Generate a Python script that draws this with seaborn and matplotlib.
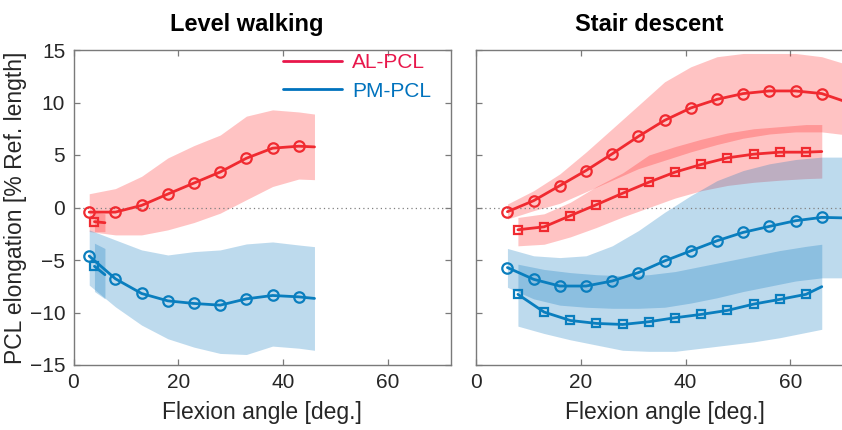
import numpy as np
import pandas as pd
import matplotlib
matplotlib.use("Agg")
import matplotlib.pyplot as plt
from matplotlib.lines import Line2D
import seaborn as sns

# ---------------- data ----------------
# Level walking
LW_circ_x = [3, 8, 13, 18, 23, 28, 33, 38, 43, 46]
LW_AL_circ = [-0.44, -0.44, 0.2, 1.28, 2.33, 3.38, 4.69, 5.65, 5.84, 5.77]
LW_AL_circ_up = [1.31, 1.8, 2.97, 4.72, 5.9, 6.9, 8.7, 9.3, 9.1, 8.9]
LW_AL_circ_lo = [-2.29, -2.61, -2.61, -2.13, -1.43, -0.54, 0.74, 2.0, 2.71, 2.65]
LW_PM_circ = [-4.62, -6.79, -8.19, -8.89, -9.14, -9.3, -8.7, -8.38, -8.51, -8.66]
LW_PM_circ_up = [-2.13, -3.09, -4.04, -4.52, -4.2, -4.04, -3.47, -3.28, -3.57, -3.73]
LW_PM_circ_lo = [-7.39, -9.46, -11.2, -12.5, -13.3, -13.9, -14.0, -13.2, -13.4, -13.6]

LW_sq_x = [4, 6]
LW_AL_sq = [-1.35, -1.45]
LW_AL_sq_up = [-0.5, -0.6]
LW_AL_sq_lo = [-2.3, -2.3]
LW_PM_sq = [-5.6, -6.4]
LW_PM_sq_up = [-3.4, -3.9]
LW_PM_sq_lo = [-8.0, -8.7]

# Stair descent
SD_circ_x = [6, 11, 16, 21, 26, 31, 36, 41, 46, 51, 56, 61, 66, 71]
SD_AL_circ = [-0.4, 0.65, 2.08, 3.52, 5.11, 6.77, 8.3, 9.48, 10.3, 10.85, 11.1, 11.1, 10.85, 10.0]
SD_AL_circ_up = [0.33, 1.6, 3.2, 5.28, 7.5, 9.73, 11.97, 13.4, 14.36, 14.67, 14.67, 14.67, 14.36, 13.6]
SD_AL_circ_lo = [-1.1, -0.3, 0.4, 1.5, 2.6, 3.7, 4.5, 5.3, 6.0, 6.6, 7.0, 7.2, 7.2, 6.9]
SD_PM_circ = [-5.72, -6.84, -7.48, -7.48, -7.0, -6.2, -5.09, -4.13, -3.17, -2.37, -1.8, -1.26, -0.94, -1.0]
SD_PM_circ_up = [-3.9, -4.6, -4.77, -4.6, -3.65, -2.2, -0.46, 1.13, 2.56, 3.52, 4.16, 4.57, 4.8, 4.8]
SD_PM_circ_lo = [-7.6, -8.7, -9.3, -9.5, -9.6, -9.6, -9.5, -9.1, -8.6, -8.0, -7.5, -7.0, -6.7, -6.7]

SD_sq_x = [8, 13, 18, 23, 28, 33, 38, 43, 48, 53, 58, 63, 66]
SD_AL_sq = [-2.12, -1.84, -0.78, 0.27, 1.36, 2.41, 3.37, 4.1, 4.73, 5.08, 5.27, 5.27, 5.33]
SD_AL_sq_up = [-0.95, -0.6, 0.5, 2.0, 3.3, 5.0, 5.8, 6.5, 7.1, 7.5, 7.7, 7.9, 7.9]
SD_AL_sq_lo = [-3.65, -3.5, -2.8, -1.9, -0.9, 0.0, 0.9, 1.6, 2.1, 2.4, 2.6, 2.75, 2.8]
SD_PM_sq = [-8.27, -9.96, -10.76, -11.04, -11.14, -10.88, -10.5, -10.18, -9.8, -9.2, -8.75, -8.27, -7.54]
SD_PM_sq_up = [-5.4, -5.9, -6.2, -6.4, -6.5, -6.4, -6.1, -5.6, -5.1, -4.6, -4.1, -3.7, -3.5]
SD_PM_sq_lo = [-11.3, -12.0, -12.6, -13.1, -13.6, -13.7, -13.7, -13.4, -13.1, -12.8, -12.4, -11.9, -11.6]

titles = ["Level walking", "Stair descent"]
legend_labels = ["AL-PCL", "PM-PCL"]
x_ticks = [0, 20, 40, 60]
y_ticks = [-15, -10, -5, 0, 5, 10, 15]
xlabel = "Flexion angle [deg.]"
ylabel = "PCL elongation [% Ref. length]"

# ---------------- style ----------------
sns.set_theme(style="white")
plt.rcParams["font.family"] = ["Liberation Sans", "DejaVu Sans"]

RED_LINE = "#F02A30"
BLUE_LINE = "#0A7EBE"
RED_BAND = "#FF1A1A"
BLUE_BAND = "#0072BD"
RED_LEG = "#E8174B"
BLUE_LEG = "#0072BD"
SPINE = "#7a7a7a"
TXT = "#262626"

fig = plt.figure(figsize=(8.42, 4.30), dpi=100)
W, H = 842.0, 430.0
ax_l = fig.add_axes([73.5 / W, (H - 365) / H, 377.2 / W, 315 / H])
ax_r = fig.add_axes([476 / W, (H - 365) / H, 377.2 / W, 315 / H])


def band(ax, x, lo, up, color):
    ax.fill_between(x, lo, up, color=color, alpha=0.26, linewidth=0, zorder=1)


def series(ax, x, y, color, marker, ms, mark_last=False):
    df = pd.DataFrame({"x": x, "y": y})
    idx = list(range(len(x))) if mark_last else list(range(len(x) - 1))
    sns.lineplot(data=df, x="x", y="y", ax=ax, color=color, linewidth=2.0,
                 marker=marker, markersize=ms, markevery=idx,
                 markerfacecolor="none", markeredgecolor=color,
                 markeredgewidth=1.6, errorbar=None, sort=False, zorder=3)


# Left panel
band(ax_l, LW_circ_x, LW_AL_circ_lo, LW_AL_circ_up, RED_BAND)
band(ax_l, LW_sq_x, LW_AL_sq_lo, LW_AL_sq_up, RED_BAND)
band(ax_l, LW_circ_x, LW_PM_circ_lo, LW_PM_circ_up, BLUE_BAND)
band(ax_l, LW_sq_x, LW_PM_sq_lo, LW_PM_sq_up, BLUE_BAND)
series(ax_l, LW_circ_x, LW_AL_circ, RED_LINE, "o", 7.5)
series(ax_l, LW_circ_x, LW_PM_circ, BLUE_LINE, "o", 7.5)
series(ax_l, LW_sq_x, LW_AL_sq, RED_LINE, "s", 5.5)
series(ax_l, LW_sq_x, LW_PM_sq, BLUE_LINE, "s", 5.5)

# Right panel
band(ax_r, SD_circ_x, SD_AL_circ_lo, SD_AL_circ_up, RED_BAND)
band(ax_r, SD_sq_x, SD_AL_sq_lo, SD_AL_sq_up, RED_BAND)
band(ax_r, SD_circ_x, SD_PM_circ_lo, SD_PM_circ_up, BLUE_BAND)
band(ax_r, SD_sq_x, SD_PM_sq_lo, SD_PM_sq_up, BLUE_BAND)
series(ax_r, SD_circ_x, SD_AL_circ, RED_LINE, "o", 7.5)
series(ax_r, SD_circ_x, SD_PM_circ, BLUE_LINE, "o", 7.5)
series(ax_r, SD_sq_x, SD_AL_sq, RED_LINE, "s", 5.5)
series(ax_r, SD_sq_x, SD_PM_sq, BLUE_LINE, "s", 5.5)

for i, ax in enumerate([ax_l, ax_r]):
    ax.axhline(0, color="#808080", linestyle=(0, (1, 2.5)), linewidth=0.9, zorder=2)
    ax.set_xlim(0, 72)
    ax.set_ylim(-15, 15)
    ax.set_xticks(x_ticks)
    ax.set_yticks(y_ticks)
    for s in ax.spines.values():
        s.set_color(SPINE)
        s.set_linewidth(1.0)
    ax.tick_params(direction="in", length=4, width=0.9, color=SPINE,
                   top=True, right=True, bottom=True, left=True,
                   labelsize=15, labelcolor=TXT, pad=6)
    ax.set_xlabel(xlabel, fontsize=16.5, color=TXT, labelpad=6)
    ax.set_ylabel("")
    ax.set_title(titles[i], fontsize=17, fontweight="bold", color="black",
                 pad=14, x=0.46)

ax_l.set_ylabel(ylabel, fontsize=16.5, color=TXT, labelpad=2)
ax_r.tick_params(labelleft=False)

handles = [Line2D([0], [0], color=RED_LEG, lw=2.0),
           Line2D([0], [0], color=BLUE_LEG, lw=2.0)]
leg = ax_l.legend(handles, legend_labels, loc="upper right",
                  bbox_to_anchor=(0.948, 0.99), frameon=False,
                  fontsize=15, handlelength=2.8, handletextpad=0.5,
                  labelspacing=0.45, borderaxespad=0, borderpad=0)
for t, c in zip(leg.get_texts(), [RED_LEG, BLUE_LEG]):
    t.set_color(c)

fig.savefig("out.png", dpi=100)
